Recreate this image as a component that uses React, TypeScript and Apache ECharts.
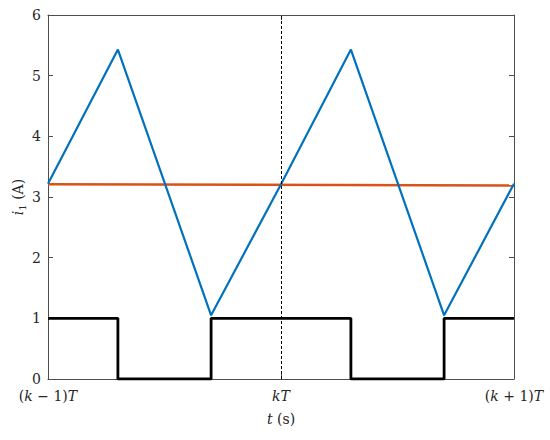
import React, { useEffect, useRef } from "react";
import * as echarts from "echarts";

const xTicks = [0, 1, 2];
const xTickLabels = ["({i|k} − 1){i|T}", "{i|kT}", "({i|k} + 1){i|T}"];
const yTicks = [0, 1, 2, 3, 4, 5, 6];

const currentX = [0, 0.3, 0.7, 1.0, 1.3, 1.7, 2.0];
const currentY = [3.22, 5.43, 1.05, 3.21, 5.43, 1.05, 3.22];

const avgX = [0, 2];
const avgY = [3.21, 3.19];

const switchX = [0, 0.3, 0.3, 0.7, 0.7, 1.3, 1.3, 1.7, 1.7, 2.0];
const switchY = [1, 1, 0, 0, 1, 1, 0, 0, 1, 1];

const markX = 1;

const SERIF = "DejaVu Serif";
const AX = "#4d4d4d";
const TXT = "#262626";
const FS = 14;

export default function App() {
  const ref = useRef<HTMLDivElement>(null);
  useEffect(() => {
    if (!ref.current) return;
    const chart = echarts.init(ref.current, null, { renderer: "svg" });
    const zip = (xs: number[], ys: number[]) => xs.map((x, i) => [x, ys[i]]);
    const rich = {
      i: { fontStyle: "italic", fontFamily: SERIF, fontSize: FS, color: TXT },
      sub: { fontFamily: SERIF, fontSize: 10, color: TXT, verticalAlign: "bottom", padding: [8, 0, 0, 0] },
    };
    const frame = {
      axisLine: { show: true, onZero: false, lineStyle: { color: AX, width: 1 } },
      axisTick: { show: true, inside: true, length: 5, lineStyle: { color: AX } },
      splitLine: { show: false },
    };
    chart.setOption({
      animation: false,
      backgroundColor: "#fff",
      grid: { left: 48, right: 36, top: 15, bottom: 61, containLabel: false, outerBoundsMode: "none" },
      xAxis: [
        {
          type: "value",
          min: 0,
          max: 2,
          interval: 1,
          position: "bottom",
          ...frame,
          axisLabel: {
            fontFamily: SERIF,
            fontSize: FS,
            color: TXT,
            margin: 10,
            rich,
            formatter: (v: number) => {
              const idx = xTicks.indexOf(Math.round(v));
              return idx >= 0 ? xTickLabels[idx] : "";
            },
          },
          name: "{i|t} (s)",
          nameLocation: "middle",
          nameGap: 33,
          nameMoveOverlap: false,
          nameTextStyle: { fontFamily: SERIF, fontSize: FS, color: TXT, rich },
        },
        {
          type: "value",
          min: 0,
          max: 2,
          interval: 1,
          position: "top",
          ...frame,
          axisLabel: { show: false },
        },
      ],
      yAxis: [
        {
          type: "value",
          min: 0,
          max: 6,
          interval: 1,
          position: "left",
          ...frame,
          axisLabel: {
            fontFamily: SERIF,
            fontSize: FS,
            color: TXT,
            margin: 7,
            formatter: (v: number) => (yTicks.includes(v) ? String(v) : ""),
          },
          name: "{i|i}{sub|1} (A)",
          nameLocation: "middle",
          nameRotate: 90,
          nameGap: 21,
          nameMoveOverlap: false,
          nameTextStyle: { fontFamily: SERIF, fontSize: FS, color: TXT, rich },
        },
        {
          type: "value",
          min: 0,
          max: 6,
          interval: 1,
          position: "right",
          ...frame,
          axisLabel: { show: false },
        },
      ],
      series: [
        {
          type: "line",
          data: zip(avgX, avgY),
          showSymbol: false,
          lineStyle: { color: "#D95319", width: 2.5 },
          z: 3,
          markLine: {
            silent: true,
            symbol: "none",
            label: { show: false },
            lineStyle: { color: "#000", type: [3, 2], width: 1 },
            data: [{ xAxis: markX }],
          },
        },
        {
          type: "line",
          data: zip(currentX, currentY),
          showSymbol: false,
          lineStyle: { color: "#0072BD", width: 2.2 },
          z: 4,
        },
        {
          type: "line",
          data: zip(switchX, switchY),
          showSymbol: false,
          lineStyle: { color: "#000", width: 2.8 },
          z: 5,
        },
      ],
    });
    return () => chart.dispose();
  }, []);
  return (
    <div
      ref={ref}
      style={{ position: "fixed", left: 0, top: 0, width: 550, height: 440, background: "#fff" }}
    />
  );
}
